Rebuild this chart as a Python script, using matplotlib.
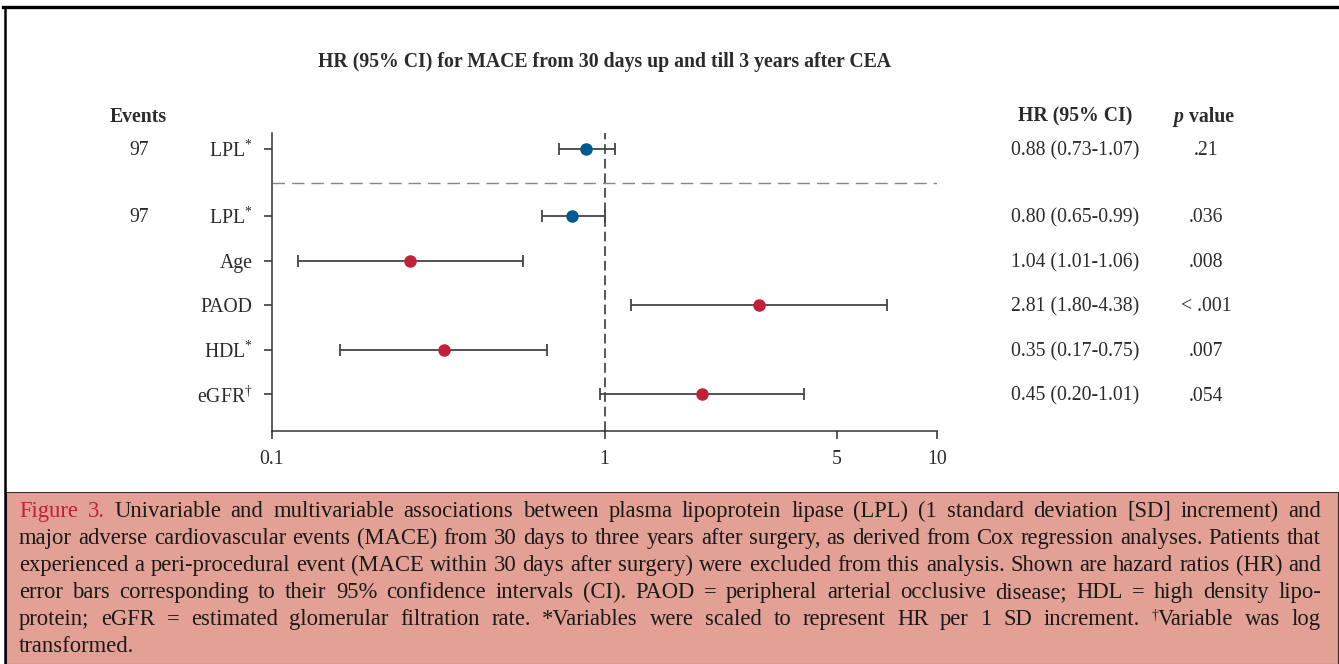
import matplotlib
matplotlib.use("Agg")
import matplotlib.pyplot as plt
import matplotlib.transforms as mtransforms
from matplotlib.lines import Line2D
from matplotlib.patches import Rectangle
import numpy as np

# ---------------------------------------------------------------------------
# Data (HR and 95% CI as drawn in the figure, plus the printed table)
# ---------------------------------------------------------------------------
labels = ["LPL$^{*}$", "LPL$^{*}$", "Age", "PAOD", "HDL$^{*}$", "eGFR$^{\\dagger}$"]
events = ["97", "97", "", "", "", ""]
hr_point = [0.88, 0.80, 0.26, 2.92, 0.33, 1.97]
ci_low = [0.73, 0.65, 0.12, 1.20, 0.16, 0.97]
ci_high = [1.075, 1.00, 0.57, 7.09, 0.67, 3.98]
univariable = [True, False, False, False, False, False]
highlight = [True, True, False, False, False, False]   # LPL rows in blue

hr_text = ["0.88 (0.73-1.07)", "0.80 (0.65-0.99)", "1.04 (1.01-1.06)",
           "2.81 (1.80-4.38)", "0.35 (0.17-0.75)", "0.45 (0.20-1.01)"]
p_text = [".21", ".036", ".008", "< .001", ".007", ".054"]
x_ticks = [0.1, 1, 5, 10]

title = "HR (95% CI) for MACE from 30 days up and till 3 years after CEA"

caption_lines = [
    "Figure 3. Univariable and multivariable associations between plasma lipoprotein lipase (LPL) (1 standard deviation [SD] increment) and",
    "major adverse cardiovascular events (MACE) from 30 days to three years after surgery, as derived from Cox regression analyses. Patients that",
    "experienced a peri-procedural event (MACE within 30 days after surgery) were excluded from this analysis. Shown are hazard ratios (HR) and",
    "error bars corresponding to their 95% confidence intervals (CI). PAOD = peripheral arterial occlusive disease; HDL = high density lipo-",
    "protein; eGFR = estimated glomerular filtration rate. *Variables were scaled to represent HR per 1 SD increment. \u2020Variable was log",
    "transformed.",
]

# ---------------------------------------------------------------------------
# Style
# ---------------------------------------------------------------------------
plt.rcParams["font.family"] = ["Liberation Serif", "DejaVu Serif"]
plt.rcParams["mathtext.fontset"] = "custom"
plt.rcParams["mathtext.rm"] = "Liberation Serif"
plt.rcParams["mathtext.it"] = "Liberation Serif:italic"
plt.rcParams["mathtext.bf"] = "Liberation Serif:bold"

BLUE = "#005a8e"
RED = "#c21f38"
INK = "#2b2b2b"
BAR = "#444444"
PINK = "#e3a195"
FS = 14.2

W, H = 1339, 664
fig = plt.figure(figsize=(W / 100, H / 100), dpi=100)

def fx(px):
    return px / W

def fy(py):
    return 1 - py / H

# outer frame + caption box
fig.add_artist(Rectangle((fx(6), 0), fx(1338) - fx(6), fy(492), transform=fig.transFigure,
                         facecolor=PINK, edgecolor="#333333", lw=0.8, zorder=0))
fig.add_artist(Line2D([fx(3), 1], [fy(7), fy(7)], color="black", lw=2.4))
fig.add_artist(Line2D([fx(5), fx(5)], [0, fy(7)], color="black", lw=1.8))

# ---------------------------------------------------------------------------
# Forest plot
# ---------------------------------------------------------------------------
ax = fig.add_axes([fx(272), fy(431), fx(937) - fx(272), fy(133) - fy(431)])

# first row (univariable) is set apart from the multivariable block
ypos = []
y = 0.0
for i, uni in enumerate(univariable):
    ypos.append(y)
    y += 1.5 if uni else 1.0
ypos = np.array(ypos)

for i in range(len(labels)):
    col = BLUE if highlight[i] else RED
    ax.errorbar(hr_point[i], ypos[i],
                xerr=[[hr_point[i] - ci_low[i]], [ci_high[i] - hr_point[i]]],
                fmt="o", color=col, ms=8, ecolor=BAR, elinewidth=1.3,
                capsize=4, capthick=1.3, zorder=3)

ax.set_xscale("log")
ax.set_xlim(0.1, 10)
ax.set_ylim(6.32, -0.36)

ax.axvline(1, color="#555555", lw=1.4, ls=(0, (5, 2.5)), zorder=1)
sep_y = (ypos[0] + ypos[1]) / 2
ax.axhline(sep_y, color="#888888", lw=1.0, ls=(0, (9, 5)), zorder=1)

ax.set_xticks(x_ticks)
ax.set_xticklabels([f"{t:g}" for t in x_ticks])
ax.xaxis.set_minor_locator(matplotlib.ticker.NullLocator())
ax.set_yticks(ypos)
ax.set_yticklabels(labels)
ax.tick_params(axis="both", labelsize=FS, colors=INK, length=6, width=1.1, pad=8)

for side in ("top", "right"):
    ax.spines[side].set_visible(False)
for side in ("left", "bottom"):
    ax.spines[side].set_color("#333333")
    ax.spines[side].set_linewidth(1.1)

# ---------------------------------------------------------------------------
# Side columns
# ---------------------------------------------------------------------------
tr = mtransforms.blended_transform_factory(fig.transFigure, ax.transData)
head_y = -0.72

ax.text(fx(110), head_y, "Events", transform=tr, fontsize=FS, fontweight="bold",
        color=INK, ha="left", va="center", clip_on=False)
ax.text(fx(1075), head_y, "HR (95% CI)", transform=tr, fontsize=FS, fontweight="bold",
        color=INK, ha="center", va="center", clip_on=False)
ax.text(fx(1183), head_y, "p", transform=tr, fontsize=FS, fontweight="bold",
        fontstyle="italic", color=INK, ha="right", va="center", clip_on=False)
ax.text(fx(1189), head_y, "value", transform=tr, fontsize=FS, fontweight="bold",
        color=INK, ha="left", va="center", clip_on=False)

for i in range(len(labels)):
    if events[i]:
        ax.text(fx(139), ypos[i] + 0.04, events[i], transform=tr, fontsize=FS, color=INK,
                ha="center", va="center", clip_on=False)
    ax.text(fx(1075), ypos[i] + 0.04, hr_text[i], transform=tr, fontsize=FS, color=INK,
            ha="center", va="center", clip_on=False)
    ax.text(fx(1206), ypos[i] + 0.04, p_text[i], transform=tr, fontsize=FS, color=INK,
            ha="center", va="center", clip_on=False)

fig.text(fx(605), fy(62), title, fontsize=FS, fontweight="bold", color=INK,
         ha="center", va="center")

# ---------------------------------------------------------------------------
# Caption (justified, word by word)
# ---------------------------------------------------------------------------
fig.canvas.draw()
renderer = fig.canvas.get_renderer()
left_px, right_px = 19, 1321
baseline_y = [517, 544, 571, 598, 625, 652]


def word_width(word, size):
    t = fig.text(0, 0, word, fontsize=size)
    w = t.get_window_extent(renderer).width
    t.remove()
    return w


# size the caption so the tightest line (line 2) nearly fills the box
probe = 14
natural = word_width(caption_lines[1], probe)
CAP_FS = probe * (right_px - left_px - 8) / natural
SUP_FS = CAP_FS * 0.6

space_w = word_width("a b", CAP_FS) - word_width("ab", CAP_FS)


def caption_word_width(word):
    if word.startswith("\u2020"):
        return word_width("\u2020", SUP_FS) + word_width(word[1:], CAP_FS)
    return word_width(word, CAP_FS)


for li, line in enumerate(caption_lines):
    words = line.split(" ")
    widths = [caption_word_width(w) for w in words]
    last = li == len(caption_lines) - 1
    gap = space_w if last else (right_px - left_px - sum(widths)) / (len(words) - 1)
    x = left_px
    for wi, (word, w) in enumerate(zip(words, widths)):
        col = RED if (li == 0 and wi < 2) else "#1a1a1a"
        if word.startswith("\u2020"):
            # superscript dagger, drawn smaller and raised
            fig.text(fx(x), fy(baseline_y[li] - 6), "\u2020", fontsize=SUP_FS,
                     color=col, ha="left", va="baseline")
            dx = word_width("\u2020", SUP_FS)
            fig.text(fx(x + dx), fy(baseline_y[li]), word[1:], fontsize=CAP_FS,
                     color=col, ha="left", va="baseline")
        else:
            fig.text(fx(x), fy(baseline_y[li]), word, fontsize=CAP_FS, color=col,
                     ha="left", va="baseline")
        x += w + gap

fig.savefig("out.png", dpi=100)
